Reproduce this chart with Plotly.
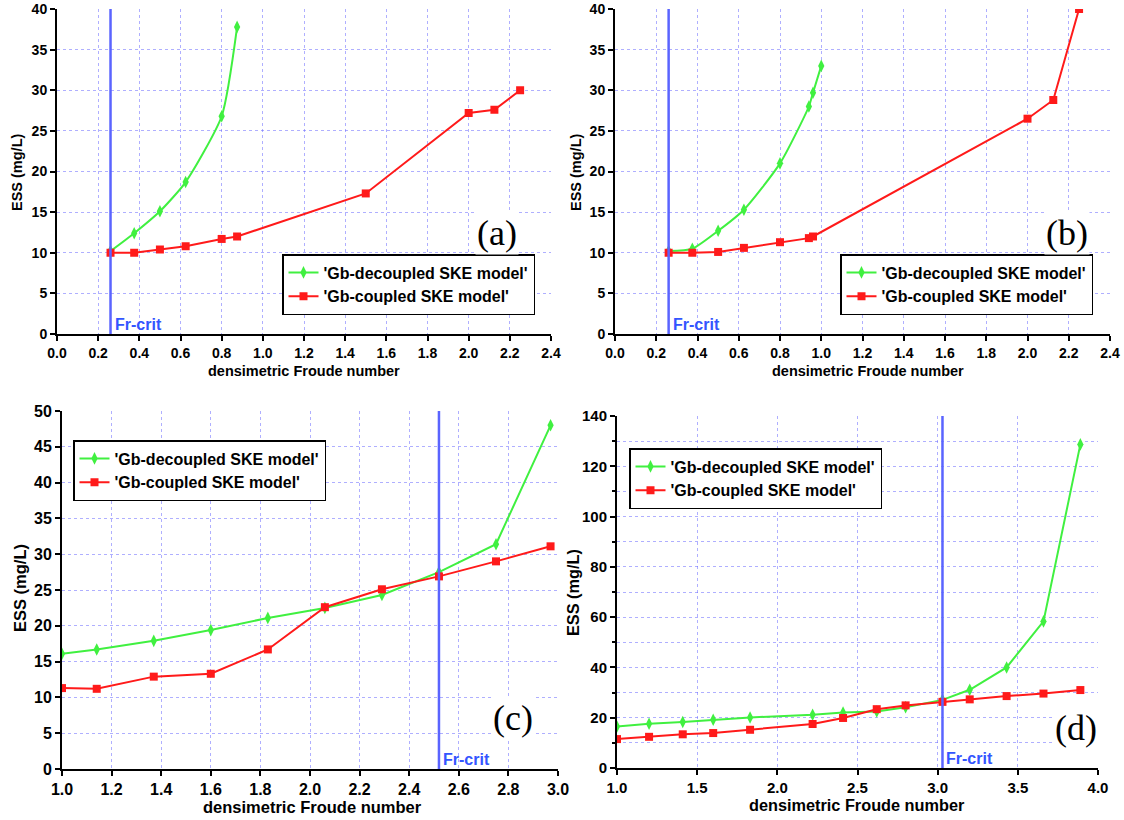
import plotly.graph_objects as go

# ---------------- data ----------------
# panel (a)
a_dec_x = [0.26, 0.375, 0.5, 0.625, 0.8, 0.875]
a_dec_y = [10.2, 12.4, 15.1, 18.7, 26.8, 37.8]
a_cou_x = [0.26, 0.375, 0.5, 0.625, 0.8, 0.875, 1.5, 2.0, 2.125, 2.25]
a_cou_y = [10.0, 10.0, 10.4, 10.8, 11.7, 12.0, 17.3, 27.2, 27.6, 30.0]
a_frcrit = 0.26

# panel (b)
b_dec_x = [0.26, 0.375, 0.5, 0.625, 0.8, 0.94, 0.96, 1.0]
b_dec_y = [10.2, 10.5, 12.7, 15.3, 21.0, 28.0, 29.7, 33.0]
b_cou_x = [0.26, 0.375, 0.5, 0.625, 0.8, 0.94, 0.96, 2.0, 2.125, 2.25]
b_cou_y = [10.0, 10.0, 10.1, 10.6, 11.3, 11.8, 12.0, 26.5, 28.8, 40.0]
b_frcrit = 0.26

# panel (c)
c_x = [1.0, 1.14, 1.37, 1.6, 1.83, 2.06, 2.29, 2.52, 2.75, 2.97]
c_dec_y = [16.1, 16.7, 17.9, 19.4, 21.1, 22.5, 24.3, 27.5, 31.4, 48.0]
c_cou_y = [11.3, 11.2, 12.9, 13.3, 16.7, 22.6, 25.1, 26.9, 29.0, 31.1]
c_frcrit = 2.52

# panel (d)
d_x = [1.0, 1.2, 1.41, 1.6, 1.83, 2.22, 2.41, 2.62, 2.8, 3.03, 3.2, 3.43, 3.66, 3.89]
d_dec_y = [16.5, 17.6, 18.3, 19.2, 20.1, 21.2, 22.1, 22.5, 24.2, 27.1, 31.1, 40.0, 58.3, 128.7]
d_cou_y = [11.5, 12.4, 13.4, 13.9, 15.2, 17.5, 19.9, 23.4, 24.9, 26.3, 27.3, 28.6, 29.6, 31.0]
d_frcrit = 3.03

panel_labels = ["(a)", "(b)", "(c)", "(d)"]
name_dec = "'Gb-decoupled SKE model'"
name_cou = "'Gb-coupled SKE model'"
x_title = "densimetric Froude number"
y_title = "ESS (mg/L)"

# ---------------- styling ----------------
GREEN = "#40F040"
RED = "#FF1A1A"
VBLUE = "#5A64FF"
FRBLUE = "#3355FF"
GRID = "rgba(110,110,255,0.55)"
FONT = "Liberation Sans"

W, H = 1124, 820


def px(x):
    return x / W


def py(y):
    return 1 - y / H


fig = go.Figure()

panels = [
    ("x", "y", "legend", a_dec_x, a_dec_y, a_cou_x, a_cou_y, a_frcrit, True),
    ("x2", "y2", "legend2", b_dec_x, b_dec_y, b_cou_x, b_cou_y, b_frcrit, True),
    ("x3", "y3", "legend3", c_x, c_dec_y, c_x, c_cou_y, c_frcrit, False),
    ("x4", "y4", "legend4", d_x, d_dec_y, d_x, d_cou_y, d_frcrit, False),
]

for xa, ya, lg, dx, dy, cx, cy, fr, spl in panels:
    fig.add_trace(go.Scatter(
        x=dx, y=dy, name=name_dec, xaxis=xa, yaxis=ya, legend=lg,
        mode="lines+markers",
        line=dict(color=GREEN, width=2, shape="spline" if spl else "linear", smoothing=0.6),
        marker=dict(symbol="diamond-tall", size=9, color=GREEN),
    ))
    fig.add_trace(go.Scatter(
        x=cx, y=cy, name=name_cou, xaxis=xa, yaxis=ya, legend=lg,
        mode="lines+markers",
        line=dict(color=RED, width=2),
        marker=dict(symbol="square", size=8, color=RED),
    ))
    fig.add_shape(type="line", xref=xa, yref=ya + " domain",
                  x0=fr, x1=fr, y0=0, y1=1,
                  line=dict(color=VBLUE, width=2.5))
    fig.add_annotation(x=fr, y=0, xref=xa, yref=ya, text="Fr-crit",
                       xanchor="left", yanchor="bottom", showarrow=False,
                       xshift=2, yshift=-1,
                       font=dict(family=FONT, size=16, color=FRBLUE, weight="bold"))

# domains (pixel measured on the reference)
doms = {
    "a": ([px(57), px(551)], [py(334), py(9)]),
    "b": ([px(615), px(1110)], [py(334), py(9)]),
    "c": ([px(62), px(558)], [py(769), py(411)]),
    "d": ([px(617), px(1098)], [py(768), py(416)]),
}
ranges = {
    "a": ([0, 2.4], [0, 40], 0.2, 5),
    "b": ([0, 2.4], [0, 40], 0.2, 5),
    "c": ([1, 3], [0, 50], 0.2, 5),
    "d": ([1, 4], [0, 140], 0.5, 20),
}
tick_sizes = {"a": 14, "b": 14, "c": 16, "d": 15}
title_sizes = {"a": 14.5, "b": 14.5, "c": 16.5, "d": 16.3}
# axis title centres (reference pixels): x-title (cx, cy), y-title (cx, cy)
xtitle_pos = {"a": (304, 371), "b": (868, 371), "c": (312, 807), "d": (857, 805)}
ytitle_pos = {"a": (17, 172), "b": (576, 172), "c": (20, 588), "d": (573, 593)}

axis_names = {"a": ("xaxis", "yaxis"), "b": ("xaxis2", "yaxis2"),
              "c": ("xaxis3", "yaxis3"), "d": ("xaxis4", "yaxis4")}
anchors = {"a": ("y", "x"), "b": ("y2", "x2"), "c": ("y3", "x3"), "d": ("y4", "x4")}

layout_axes = {}
for k in ["a", "b", "c", "d"]:
    xn, yn = axis_names[k]
    xr, yr, xd, yd = ranges[k]
    xdom, ydom = doms[k]
    ts = tick_sizes[k]
    common = dict(
        showline=True, linecolor="black", linewidth=2,
        ticks="outside", ticklen=5, tickwidth=1.5, tickcolor="black",
        showgrid=True, gridcolor=GRID, griddash="dot", gridwidth=1,
        zeroline=False, automargin=False, ticklabeloverflow="allow",
        tickfont=dict(family=FONT, size=ts, color="black", weight="bold"),
    )
    layout_axes[xn] = dict(common, domain=xdom, range=xr, dtick=xd, tick0=0,
                           anchor=anchors[k][0], tickformat=".1f")
    yd_ = dict(common, domain=ydom, range=yr, dtick=yd, tick0=0,
               anchor=anchors[k][1])
    if k == "d":
        yd_["minor"] = dict(dtick=10, showgrid=True, gridcolor=GRID, griddash="dot",
                            ticks="outside", ticklen=3, tickcolor="black")
    layout_axes[yn] = yd_

    tf = dict(family=FONT, size=title_sizes[k], color="black", weight="bold")
    fig.add_annotation(x=px(xtitle_pos[k][0]), y=py(xtitle_pos[k][1]),
                       xref="paper", yref="paper", text=x_title, showarrow=False,
                       xanchor="center", yanchor="middle", font=tf)
    fig.add_annotation(x=px(ytitle_pos[k][0]), y=py(ytitle_pos[k][1]),
                       xref="paper", yref="paper", text=y_title, showarrow=False,
                       textangle=-90, xanchor="center", yanchor="middle", font=tf)

legend_common = dict(
    bgcolor="white", bordercolor="black", borderwidth=1.5,
    font=dict(family=FONT, size=16, color="black", weight="bold"),
    xanchor="left", yanchor="top", tracegroupgap=0, itemwidth=30,
)

fig.update_layout(
    width=W, height=H,
    margin=dict(l=0, r=0, t=0, b=0),
    paper_bgcolor="white", plot_bgcolor="white",
    showlegend=True,
    legend=dict(legend_common, x=px(282), y=py(254)),
    legend2=dict(legend_common, x=px(840), y=py(254)),
    legend3=dict(legend_common, x=px(73), y=py(440)),
    legend4=dict(legend_common, x=px(629), y=py(448)),
    **layout_axes,
)

# panel letters
label_pos = [("x", "y", 2.14, 12.4), ("x2", "y2", 2.19, 12.4),
             ("x3", "y3", 2.82, 7.1), ("x4", "y4", 3.86, 16.0)]
for lab, (xa, ya, lx, ly) in zip(panel_labels, label_pos):
    fig.add_annotation(x=lx, y=ly, xref=xa, yref=ya, text=lab, showarrow=False,
                       bgcolor="white",
                       font=dict(family="Liberation Serif", size=36, color="black"))

fig.write_html("out.html", config={"displayModeBar": False},
               post_script="document.body.style.margin='0';")
